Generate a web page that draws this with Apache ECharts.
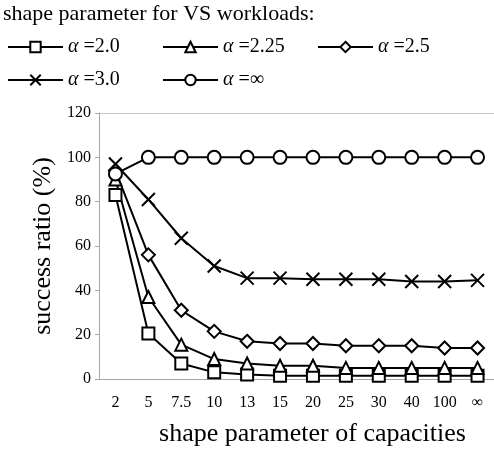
<!DOCTYPE html>
<html>
<head>
<meta charset="utf-8">
<script src="https://cdn.jsdelivr.net/npm/echarts@6/dist/echarts.min.js"></script>
<style>
  html, body { margin: 0; padding: 0; background: #fff; }
  #chart { width: 494px; height: 454px; }
</style>
</head>
<body>
<div id="chart"></div>
<script>
// categories (shape parameter of capacities)
const categories = ['2', '5', '7.5', '10', '13', '15', '20', '25', '30', '40', '100', '∞'];
const yTicks = [0, 20, 40, 60, 80, 100, 120];

// success ratio (%) per VS workload shape parameter
const alpha20 = [83, 20.5, 7, 3, 2, 1.5, 1.5, 1.5, 1.5, 1.5, 1.5, 1.5];
const alpha225 = [90, 37, 15.5, 9, 7, 6, 6, 5, 5, 5, 5, 5];
const alpha25 = [94, 56, 31, 21.5, 17, 16, 16, 15, 15, 15, 14, 14];
const alpha30 = [97, 81, 63.5, 51, 45.5, 45.5, 45, 45, 45, 44, 44, 44.5];
const alphaInf = [92.5, 100, 100, 100, 100, 100, 100, 100, 100, 100, 100, 100];

const serif = '"Liberation Serif", "Times New Roman", serif';
const crossPath = 'path://M0,0L10,10M10,0L0,10';

const chart = echarts.init(document.getElementById('chart'));

// one series builder, all black lines with hollow markers
const mkSeries = (name, data, symbol, size) => ({
  name: name,
  type: 'line',
  data: data,
  symbol: symbol,
  symbolSize: size,
  showAllSymbol: true,
  lineStyle: { color: '#000', width: 2 },
  itemStyle: { color: '#fff', borderColor: '#000', borderWidth: 2 },
  emphasis: { disabled: true }
});

const legendText = {
  fontFamily: serif,
  fontSize: 20,
  color: '#000',
  rich: {
    a: { fontFamily: serif, fontStyle: 'italic', fontSize: 20, color: '#000' },
    b: { fontFamily: serif, fontSize: 20, color: '#000' }
  }
};
const mkLegend = (name, left, top) => ({
  data: [name],
  left: left,
  top: top,
  padding: 0,
  itemWidth: 55,
  itemHeight: 13,
  itemGap: 10,
  textStyle: legendText,
  formatter: n => '{a|α} {b|' + n.slice(1) + '}'
});

const option = {
  animation: false,
  title: {
    text: 'shape parameter for VS workloads:',
    left: 3,
    top: 3,
    padding: 0,
    textStyle: { fontFamily: serif, fontSize: 22, fontWeight: 'normal', color: '#000' }
  },
  legend: [
    mkLegend('α=2.0', 7, 37),
    mkLegend('α=2.25', 162, 37),
    mkLegend('α=2.5', 317, 37),
    mkLegend('α=3.0', 7, 70),
    mkLegend('α=∞', 162, 70)
  ],
  grid: { left: 99, right: 0, top: 113, bottom: 75 },
  xAxis: {
    type: 'category',
    data: categories,
    boundaryGap: true,
    name: 'shape parameter of capacities',
    nameLocation: 'middle',
    nameGap: 42,
    nameTextStyle: { fontFamily: serif, fontSize: 26, color: '#000', padding: [0, 0, 0, 32] },
    axisLine: { lineStyle: { color: '#a6a6a6', width: 1 } },
    axisTick: { inside: true, length: 4, lineStyle: { color: '#a6a6a6' } },
    axisLabel: { fontFamily: serif, fontSize: 16, color: '#000', margin: 16 }
  },
  yAxis: {
    type: 'value',
    min: 0,
    max: 120,
    interval: 20,
    name: 'success ratio (%)',
    nameLocation: 'middle',
    nameGap: 42,
    nameTextStyle: { fontFamily: serif, fontSize: 26, color: '#000' },
    axisLine: { show: true, lineStyle: { color: '#a6a6a6', width: 1 } },
    axisTick: { show: true, length: 4, lineStyle: { color: '#a6a6a6' } },
    axisLabel: {
      fontFamily: serif, fontSize: 16, color: '#000', margin: 8,
      formatter: v => (yTicks.indexOf(v) >= 0 ? String(v) : '')
    },
    splitLine: {
      show: true,
      // only the top line (120) is drawn in the reference
      lineStyle: { color: ['rgba(0,0,0,0)', 'rgba(0,0,0,0)', 'rgba(0,0,0,0)', 'rgba(0,0,0,0)', 'rgba(0,0,0,0)', 'rgba(0,0,0,0)', '#c8c8c8'], width: 1 }
    }
  },
  series: [
    mkSeries('α=2.0', alpha20, 'rect', 12),
    mkSeries('α=2.25', alpha225, 'triangle', 12),
    mkSeries('α=2.5', alpha25, 'diamond', 13),
    mkSeries('α=3.0', alpha30, crossPath, 13),
    mkSeries('α=∞', alphaInf, 'circle', 13)
  ]
};

chart.setOption(option);
</script>
</body>
</html>
